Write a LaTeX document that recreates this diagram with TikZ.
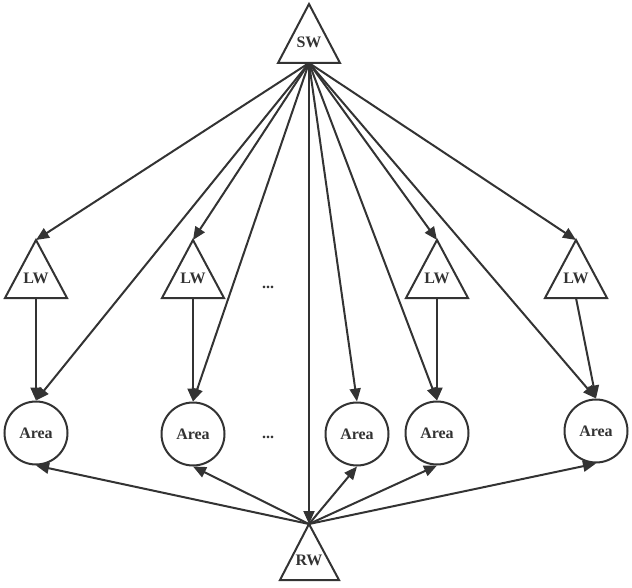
\documentclass[tikz,border=0pt]{standalone}
\usepackage{fontspec}
\setmainfont{Liberation Serif}
\usetikzlibrary{arrows.meta}
\definecolor{ink}{HTML}{333333}
\begin{document}
\begin{tikzpicture}[x=1pt,y=-1pt,
  line width=2pt, draw=ink,
  tri/.style={draw=ink, line width=2pt, line join=miter},
  lbl/.style={font=\bfseries\fontsize{16}{16}\selectfont, text=ink, inner sep=0pt},
  area/.style={circle, draw=ink, line width=2pt, minimum size=63pt, inner sep=0pt, font=\bfseries\fontsize{16}{16}\selectfont, text=ink},
  arr/.style={draw=ink, line width=2pt, -{Triangle[length=13pt,width=11pt]}},
  dots/.style={font=\bfseries\fontsize{16}{16}\selectfont, text=ink, inner sep=0pt}]
\useasboundingbox (0,0) rectangle (632,588);

% SW
\draw[tri] (278,63) -- (309,4) -- (340,63) -- cycle;
\node[lbl] (sw) at (309,42) {SW};
\coordinate (swb) at (309,63);

% LW triangles
\foreach \n/\x in {1/36,2/193,3/437,4/576}{
  \draw[tri] (\x-31,298) -- (\x,240) -- (\x+31,298) -- cycle;
  \node[lbl] (lw\n) at (\x,278) {LW};
  \coordinate (lw\n t) at (\x,240);
  \coordinate (lw\n b) at (\x,298);
}

% RW
\draw[tri] (280,580) -- (309,524) -- (339,580) -- cycle;
\node[lbl] (rw) at (309,560) {RW};
\coordinate (rwt) at (309,524);

% Areas
\node[area] (a1) at (36,433) {Area};
\node[area] (a2) at (193,434) {Area};
\node[area] (a3) at (357,434) {Area};
\node[area] (a4) at (437,433) {Area};
\node[area] (a5) at (596,431) {Area};

% dots
\node[dots] (d1) at (268,287) {...};
\node[dots] (d2) at (268,437) {...};

% SW edges
\foreach \n in {1,2,3,4}{ \draw[arr] (swb) -- (lw\n t); }
\foreach \n in {1,...,5}{ \draw[arr] (swb) -- (a\n.north); }
\draw[arr] (swb) -- (rwt);

% LW -> Area
\foreach \n/\m in {1/1,2/2,3/4,4/5}{ \draw[arr] (lw\n b) -- (a\m.north); }

% RW -> Area
\foreach \n in {1,...,5}{ \draw[arr] (rwt) -- (a\n.south); }
\end{tikzpicture}
\end{document}
